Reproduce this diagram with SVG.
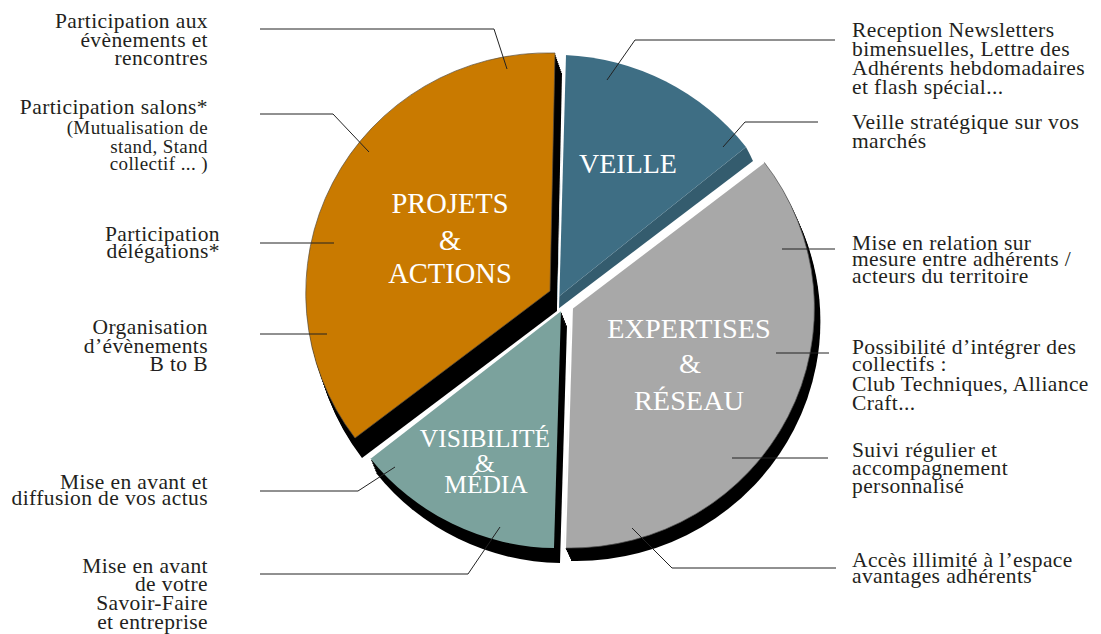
<svg xmlns="http://www.w3.org/2000/svg" xmlns:xlink="http://www.w3.org/1999/xlink" width="1101" height="634" viewBox="0 0 1101 634">
<style>
.lbl{font-family:"Liberation Serif","Times New Roman",serif;font-size:21.5px;letter-spacing:0.4px;fill:#231f20}
.sm{font-size:19px}
.l{text-anchor:end}
.in{font-family:"Liberation Serif","Times New Roman",serif;fill:#fff;text-anchor:middle}
.ex{fill:#000}
.wedge{stroke:#fff;stroke-width:2;fill:none}
.ld{fill:none;stroke:#222;stroke-width:1}
</style>
<defs>
<path id="p-or" d="M 550 291 L 555 53 A 242 240 0 0 0 355 438 Z"/>
<path id="p-te" d="M 561 310 L 554 548 A 240 240 0 0 1 370 458 Z"/>
<path id="p-gr" d="M 572 308 L 764 162 A 244 240 0 0 1 565 548 Z"/>
</defs>
<rect width="1101" height="634" fill="#fff"/>

<g id="slice-projets">
<use href="#p-or" class="ex" transform="translate(0.7,2)"/>
<use href="#p-or" class="ex" transform="translate(1.4,4)"/>
<use href="#p-or" class="ex" transform="translate(2.1,6)"/>
<use href="#p-or" class="ex" transform="translate(2.8,8)"/>
<use href="#p-or" class="ex" transform="translate(3.5,10)"/>
<use href="#p-or" class="ex" transform="translate(4.2,12)"/>
<use href="#p-or" class="ex" transform="translate(4.9,14)"/>
<use href="#p-or" class="ex" transform="translate(5.6,16)"/>
<use href="#p-or" class="ex" transform="translate(6.3,18)"/>
<use href="#p-or" class="ex" transform="translate(7,20)"/>
<use href="#p-or" fill="#c97a00" stroke="#5a5040" stroke-opacity="0.7" stroke-width="1"/>
<text class="in" x="450" y="213" font-size="28.5">PROJETS</text>
<text class="in" x="450" y="250" font-size="28.5">&amp;</text>
<text class="in" x="450" y="283" font-size="28.5">ACTIONS</text>
</g>

<g id="slice-veille">
<path d="M 557 298 L 746 147 A 245 245 0 0 1 753 161 L 558 309 Z" fill="#345c6e"/>
<path d="M 557 298 L 565 55 A 245 245 0 0 1 746 147 Z" fill="#3e6e84"/>
<path class="wedge" d="M 558 310 L 565 55"/>
<text class="in" x="628" y="173" font-size="28">VEILLE</text>
</g>

<g id="slice-visibilite">
<use href="#p-te" class="ex" transform="translate(1,2.5)"/>
<use href="#p-te" class="ex" transform="translate(2,5)"/>
<use href="#p-te" class="ex" transform="translate(3,7.5)"/>
<use href="#p-te" class="ex" transform="translate(4,10)"/>
<use href="#p-te" class="ex" transform="translate(5,12.5)"/>
<use href="#p-te" class="ex" transform="translate(6,15)"/>
<use href="#p-te" fill="#7ba29d"/>
<path class="wedge" d="M 561 310 L 370 458"/>
<text class="in" x="485" y="447" font-size="25.5">VISIBILITÉ</text>
<text class="in" x="485" y="472" font-size="25.5">&amp;</text>
<text class="in" x="486" y="493" font-size="25.5">MÉDIA</text>
</g>

<g id="slice-expertises">
<use href="#p-gr" class="ex" transform="translate(1,2.2)"/>
<use href="#p-gr" class="ex" transform="translate(2,4.3)"/>
<use href="#p-gr" class="ex" transform="translate(3,6.5)"/>
<use href="#p-gr" class="ex" transform="translate(4,8.7)"/>
<use href="#p-gr" class="ex" transform="translate(5,10.8)"/>
<use href="#p-gr" class="ex" transform="translate(6,13)"/>
<use href="#p-gr" fill="#a8a8a8" stroke="#555" stroke-opacity="0.7" stroke-width="1"/>
<path class="wedge" d="M 565 548 L 572 308 L 764 162"/>
<text class="in" x="689" y="338" font-size="28.3">EXPERTISES</text>
<text class="in" x="690" y="373" font-size="28.3">&amp;</text>
<text class="in" x="689" y="410" font-size="28.3">RÉSEAU</text>
</g>

<g id="connectors">
<polyline class="ld" points="260,29 494,29 507,69"/>
<polyline class="ld" points="260,114 333,114 369,152"/>
<polyline class="ld" points="260,243 334,243"/>
<polyline class="ld" points="260,334 327,334"/>
<polyline class="ld" points="260,491 358,491 395,467"/>
<polyline class="ld" points="260,574 468,574 500,527"/>
<polyline class="ld" points="835,40 635,40 607,80"/>
<polyline class="ld" points="818,122 745,122 723,147"/>
<polyline class="ld" points="782,249 835,249"/>
<polyline class="ld" points="776,353 829,353"/>
<polyline class="ld" points="732,458 828,458"/>
<polyline class="ld" points="632,528 672,568 836,568"/>
</g>

<g id="label-evenements">
<text class="lbl l" x="208" y="28">Participation aux</text>
<text class="lbl l" x="208" y="47">évènements et</text>
<text class="lbl l" x="208" y="65">rencontres</text>
</g>
<g id="label-salons">
<text class="lbl l" x="208" y="114">Participation salons*</text>
<text class="lbl sm l" x="208" y="134">(Mutualisation de</text>
<text class="lbl sm l" x="208" y="153">stand, Stand</text>
<text class="lbl sm l" x="208" y="170">collectif ... )</text>
</g>
<g id="label-delegations">
<text class="lbl l" x="220" y="241">Participation</text>
<text class="lbl l" x="220" y="258">délégations*</text>
</g>
<g id="label-organisation">
<text class="lbl l" x="208" y="334">Organisation</text>
<text class="lbl l" x="208" y="353">d’évènements</text>
<text class="lbl l" x="208" y="371">B to B</text>
</g>
<g id="label-diffusion">
<text class="lbl l" x="208" y="489">Mise en avant et</text>
<text class="lbl l" x="208" y="505">diffusion de vos actus</text>
</g>
<g id="label-savoir-faire">
<text class="lbl l" x="208" y="573">Mise en avant</text>
<text class="lbl l" x="208" y="591">de votre</text>
<text class="lbl l" x="208" y="610">Savoir-Faire</text>
<text class="lbl l" x="208" y="629">et entreprise</text>
</g>

<g id="label-newsletters">
<text class="lbl" x="852" y="37">Reception Newsletters</text>
<text class="lbl" x="852" y="56">bimensuelles, Lettre des</text>
<text class="lbl" x="852" y="75">Adhérents hebdomadaires</text>
<text class="lbl" x="852" y="94">et flash spécial...</text>
</g>
<g id="label-veille">
<text class="lbl" x="852" y="129">Veille stratégique sur vos</text>
<text class="lbl" x="852" y="148">marchés</text>
</g>
<g id="label-relation">
<text class="lbl" x="852" y="250">Mise en relation sur</text>
<text class="lbl" x="852" y="266">mesure entre adhérents /</text>
<text class="lbl" x="852" y="283">acteurs du territoire</text>
</g>
<g id="label-collectifs">
<text class="lbl" x="852" y="354">Possibilité d’intégrer des</text>
<text class="lbl" x="852" y="371">collectifs :</text>
<text class="lbl" x="852" y="391">Club Techniques, Alliance</text>
<text class="lbl" x="852" y="410">Craft...</text>
</g>
<g id="label-suivi">
<text class="lbl" x="852" y="457">Suivi régulier et</text>
<text class="lbl" x="852" y="475">accompagnement</text>
<text class="lbl" x="852" y="493">personnalisé</text>
</g>
<g id="label-acces">
<text class="lbl" x="852" y="567">Accès illimité à l’espace</text>
<text class="lbl" x="852" y="583">avantages adhérents</text>
</g>
</svg>
